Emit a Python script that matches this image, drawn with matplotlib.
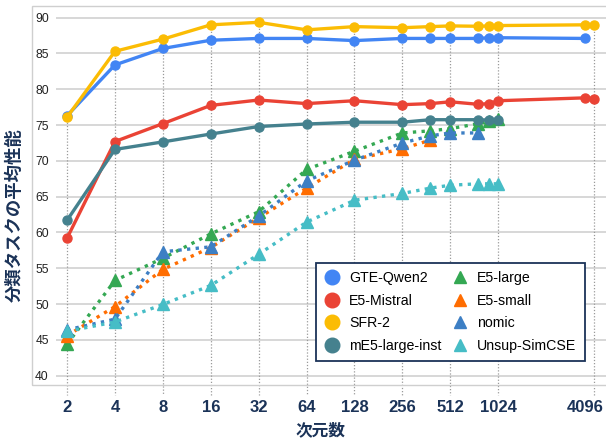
import matplotlib
matplotlib.use("Agg")
import matplotlib.pyplot as plt
from matplotlib.lines import Line2D
from matplotlib.patches import Rectangle
import matplotlib.transforms as mtransforms

plt.rcParams['font.family'] = ['Liberation Sans', 'Noto Sans CJK JP', 'DejaVu Sans']

# embedding dimensions
dims = [2, 4, 8, 16, 32, 64, 128, 256, 384, 512, 768, 896, 1024]
dims_gte = dims + [3584]
dims_big = dims + [3584, 4096]
dims_e5_small = dims[:9]
dims_nomic = dims[:11]

gte_qwen2 = [76.3, 83.4, 85.7, 86.85, 87.1, 87.1, 86.8, 87.1, 87.1, 87.1, 87.1, 87.2, 87.2, 87.1]
e5_mistral = [59.2, 72.7, 75.2, 77.75, 78.5, 78.0, 78.4, 77.85, 78.0, 78.25, 77.9, 78.0, 78.4, 78.8, 78.7]
sfr_2 = [76.1, 85.3, 87.0, 89.0, 89.35, 88.3, 88.75, 88.6, 88.75, 88.85, 88.8, 88.85, 88.9, 89.0, 89.0]
me5_large_inst = [61.7, 71.6, 72.65, 73.75, 74.8, 75.15, 75.4, 75.4, 75.75, 75.75, 75.75, 75.7, 75.75]
e5_large = [44.4, 53.3, 56.4, 59.8, 62.9, 68.8, 71.35, 73.9, 74.2, 74.5, 75.2, 75.5, 75.85]
e5_small = [45.6, 49.65, 54.85, 57.9, 62.05, 66.2, 70.2, 71.7, 72.9]
nomic = [46.4, 47.9, 57.3, 58.0, 62.3, 67.2, 70.1, 72.5, 73.5, 73.9, 73.9]
unsup_simcse = [46.2, 47.5, 49.95, 52.6, 56.95, 61.45, 64.5, 65.45, 66.2, 66.6, 66.8, 66.8, 66.8]

xticks = [2, 4, 8, 16, 32, 64, 128, 256, 512, 1024, 4096]
yticks = list(range(40, 91, 5))

navy = '#1b3358'

solid_series = [
    ('GTE-Qwen2', dims_gte, gte_qwen2, '#4285F4'),
    ('E5-Mistral', dims_big, e5_mistral, '#EA4335'),
    ('SFR-2', dims_big, sfr_2, '#FBBC04'),
    ('mE5-large-inst', dims, me5_large_inst, '#45818E'),
]
dotted_series = [
    ('E5-large', dims, e5_large, '#34A853'),
    ('E5-small', dims_e5_small, e5_small, '#FF6D01'),
    ('nomic', dims_nomic, nomic, '#3D7FC4'),
    ('Unsup-SimCSE', dims, unsup_simcse, '#46BDC6'),
]

W, H = 606, 441
fig = plt.figure(figsize=(W / 100, H / 100), dpi=100)
ax = fig.add_axes([56 / W, (H - 385) / H, 550 / W, 379 / H])

ax.set_xscale('log', base=2)
ax.set_xlim(1.705, 4871)
ax.set_ylim(38.7, 91.63)

# chart frame (starts left of the tick labels)
fig.patches.append(Rectangle((32 / W, (H - 385) / H), 1.0, 379 / H, transform=fig.transFigure,
                             fill=False, edgecolor='#cfcfcf', lw=1.0, zorder=0))

for y in yticks:
    ax.axhline(y, color='#d4d4d4', lw=1.3, zorder=0)

# drop lines from the top value at each labelled dimension
all_series = solid_series + dotted_series
for x in xticks:
    top = max(ys[xs.index(x)] for _, xs, ys, _ in all_series if x in xs)
    ax.plot([x, x], [top, 37.3], color='#9a9a9a', lw=0.9, ls=(0, (1, 1.5)),
            zorder=1, clip_on=False)

for name, xs, ys, c in dotted_series:
    ax.plot(xs, ys, color=c, lw=2.4, ls=(0, (1, 1.6)), marker='^', ms=8,
            markeredgecolor=c, zorder=2)
for name, xs, ys, c in solid_series:
    ax.plot(xs, ys, color=c, lw=2.4, marker='o', ms=6.5,
            markeredgecolor=c, zorder=3)

ax.set_xticks(xticks)
ax.set_xticklabels([str(x) for x in xticks], fontsize=12, fontweight='bold', color=navy)
ax.minorticks_off()
ax.set_yticks(yticks)
ax.set_yticklabels([str(y) for y in yticks], fontsize=8.7, color='#222222')
ax.tick_params(length=0)
ax.tick_params(axis='x', pad=11)
ax.tick_params(axis='y', pad=5.2)
# last label sits a little inside the right edge
last = ax.get_xticklabels()[-1]
last.set_transform(last.get_transform() + mtransforms.ScaledTranslation(-9 / 100, 0, fig.dpi_scale_trans))

for s in ax.spines.values():
    s.set_visible(False)

fig.text(320 / W, 1 - 430 / H, '次元数', fontsize=12, fontweight='bold', color=navy,
         ha='center', va='center')
fig.text(14 / W, 1 - 215 / H, '分類タスクの平均性能', fontsize=12.5, fontweight='bold', color=navy,
         ha='center', va='center', rotation=90)

handles = []
for name, xs, ys, c in solid_series:
    handles.append(Line2D([], [], ls='none', marker='o', ms=10.5, color=c, label=name))
for name, xs, ys, c in dotted_series:
    handles.append(Line2D([], [], ls='none', marker='^', ms=9, color=c, label=name))

leg = ax.legend(handles=handles, ncol=2, loc='lower left', bbox_to_anchor=(0.473, 0.063),
                fontsize=10.2, frameon=True, fancybox=False, borderpad=0.6,
                labelspacing=0.6, columnspacing=0.8, handletextpad=0.72, handlelength=1.0,
                borderaxespad=0)
leg.get_frame().set_edgecolor(navy)
leg.get_frame().set_linewidth(1.3)
leg.get_frame().set_alpha(1)

fig.savefig('out.png', dpi=100)
